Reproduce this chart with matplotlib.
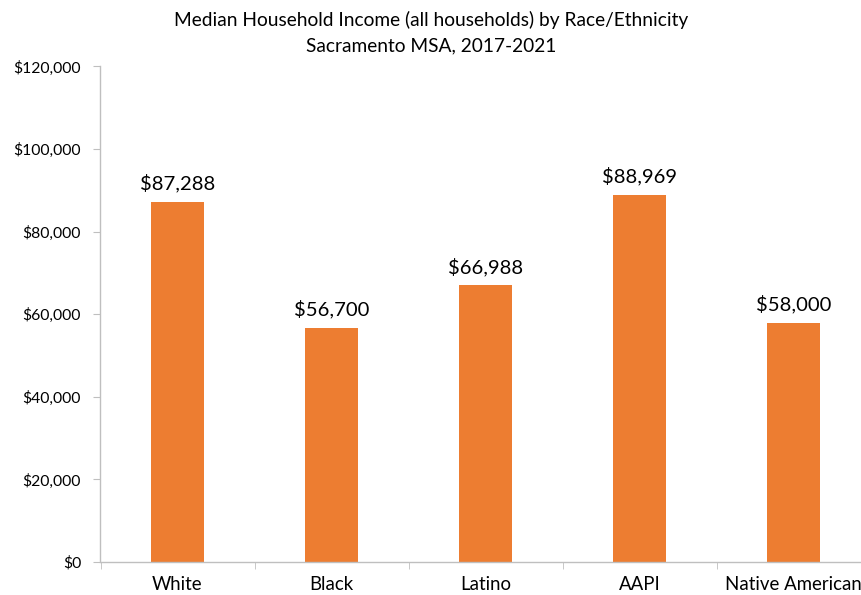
import matplotlib
matplotlib.use("Agg")
import matplotlib.pyplot as plt
from matplotlib.ticker import FuncFormatter, FixedLocator

# data
groups = ['White', 'Black', 'Latino', 'AAPI', 'Native American']
income = [87288, 56700, 66988, 88969, 58000]

plt.rcParams['font.family'] = ['Lato', 'DejaVu Sans']

fig = plt.figure(figsize=(8.62, 5.95), dpi=100)
# axes runs past the right edge of the figure, like the original
ax = fig.add_axes([100.5 / 862, 33 / 595, 770 / 862, 495.5 / 595])

x = list(range(len(groups)))
bars = ax.bar(x, income, width=0.345, color='#ED7D31', zorder=2)

for b, v in zip(bars, income):
    ax.text(b.get_x() + b.get_width() / 2, v + 2300, '${:,}'.format(v),
            ha='center', va='bottom', fontsize=14.6, color='#000000')

ax.set_xlim(-0.5, len(groups) - 0.5)
ax.set_ylim(0, 120000)
ax.set_yticks(range(0, 120001, 20000))
ax.yaxis.set_major_formatter(FuncFormatter(lambda v, p: '${:,.0f}'.format(v)))

ax.set_xticks(x)
ax.set_xticklabels(groups, fontsize=13.4)
ax.xaxis.set_minor_locator(FixedLocator([i + 0.5 for i in range(-1, len(groups))]))
ax.tick_params(axis='x', which='major', length=0, pad=10)
ax.tick_params(axis='x', which='minor', length=5, color='#bfbfbf', direction='out')
ax.tick_params(axis='y', length=5, color='#bfbfbf', labelsize=11.3, pad=9)

for s in ['top', 'right']:
    ax.spines[s].set_visible(False)
for s in ['left', 'bottom']:
    ax.spines[s].set_color('#bfbfbf')
    ax.spines[s].set_linewidth(1)

fig.text(431 / 862, 1 - 20 / 595, 'Median Household Income (all households) by Race/Ethnicity',
         ha='center', va='center', fontsize=13.8)
fig.text(431 / 862, 1 - 46 / 595, 'Sacramento MSA, 2017-2021',
         ha='center', va='center', fontsize=13.8)

fig.savefig('out.png', dpi=100)
